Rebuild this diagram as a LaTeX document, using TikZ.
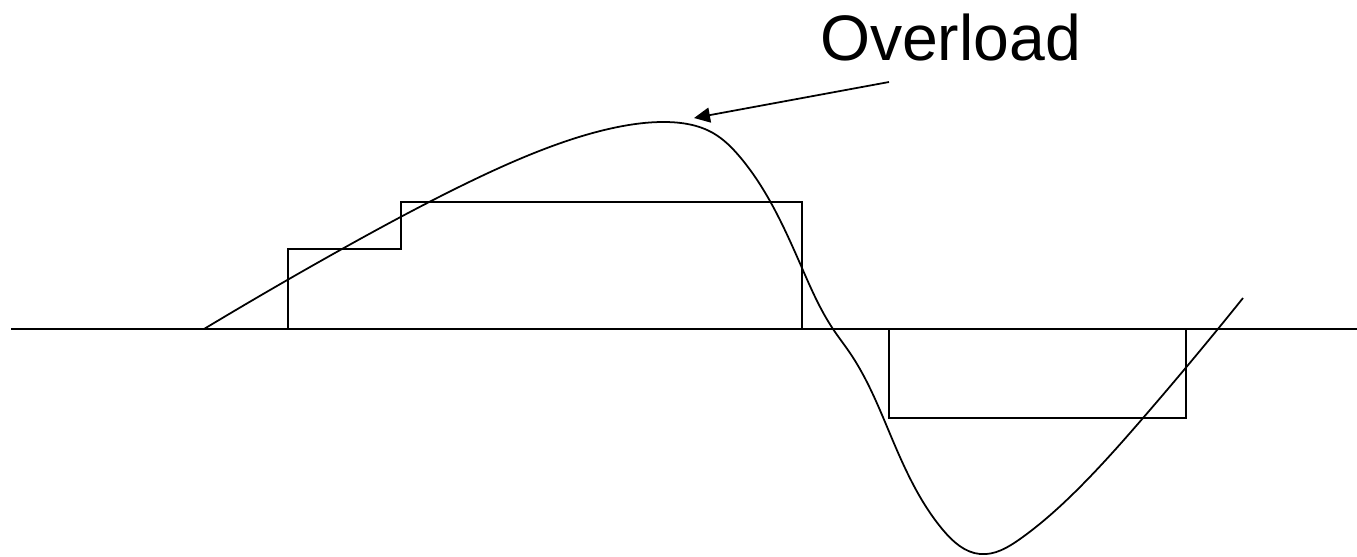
\documentclass[tikz,border=0pt]{standalone}
\usepackage{fontspec}
\setmainfont{Liberation Sans}
\usetikzlibrary{arrows.meta,hobby}
\begin{document}
\begin{tikzpicture}[line cap=butt,line join=miter,>={Triangle[length=1.6mm,width=1.5mm]},line width=0.5pt,font=\fontsize{18.3}{22}\selectfont]
			\tikzset{declare function={xmin=0.11;xmax=13.57;},
				quant/.style={line join=miter}}
			\useasboundingbox (0,-2.27) rectangle (13.57,3.29);
			\draw (xmin,0)--(xmax,0); % truc hoanh
			% tin hieu vao
			\draw[use Hobby shortcut] (2.04,0)..(3.42,0.80)..(4.63,1.44)..(5.47,1.81)..(6.13,2.01)..(6.65,2.07)..(7.13,1.96)..(7.40,1.72)..(8.02,0.61)..(8.33,0)..(8.50,-0.24)..(8.93,-1.12)..(9.43,-2.01)..(9.80,-2.25)..(10.20,-2.10)..(10.80,-1.58)..(11.43,-0.89)..(12.43,0.31);
			% bac thang luong tu
			\draw[quant] (2.88,0)--(2.88,0.80)--(4.01,0.80)--(4.01,1.27)--(8.02,1.27)--(8.02,0);
			\draw[quant] (8.89,0)--(8.89,-0.89)--(11.86,-0.89)--(11.86,0);
			\node[anchor=base] (ol) at (9.505,2.69) {Overload};
			\coordinate (tail) at (8.89,2.47);
			\coordinate (peak) at (6.94,2.11);
			\draw[->] (tail)--(peak);
		\end{tikzpicture}
\end{document}
